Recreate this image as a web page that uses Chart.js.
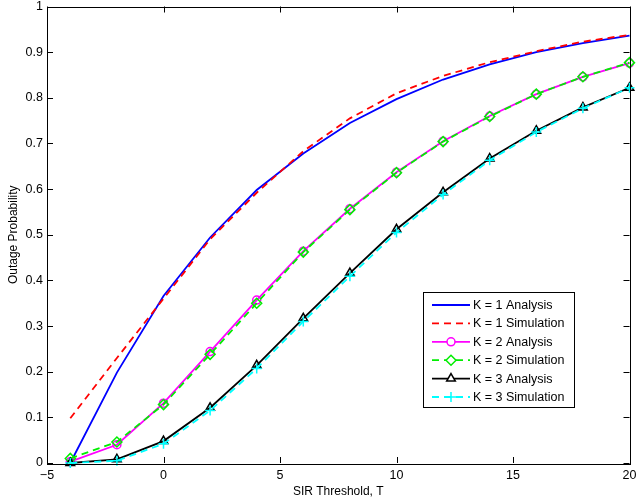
<!DOCTYPE html>
<html>
<head>
<meta charset="utf-8">
<script src="https://cdn.jsdelivr.net/npm/chart.js@4"></script>
<style>
  html, body { margin: 0; padding: 0; background: #fff; }
  #wrap { width: 636px; height: 502px; }
</style>
</head>
<body>
<div id="wrap"><canvas id="outageChart" width="636" height="502"></canvas></div>
<script>
// ==== Data ====
const sirThreshold = [-4, -2, 0, 2, 4, 6, 8, 10, 12, 14, 16, 18, 20];

const k1Analysis   = [0, 0.198, 0.366, 0.494, 0.598, 0.678, 0.745, 0.797, 0.840, 0.873, 0.900, 0.920, 0.936];
const k1Simulation = [0.098, 0.230, 0.360, 0.490, 0.592, 0.683, 0.755, 0.810, 0.848, 0.878, 0.902, 0.923, 0.938];
const k2Analysis   = [0.003, 0.040, 0.131, 0.244, 0.357, 0.464, 0.557, 0.637, 0.705, 0.760, 0.808, 0.846, 0.876];
const k2Simulation = [0.010, 0.046, 0.128, 0.238, 0.350, 0.462, 0.555, 0.636, 0.704, 0.759, 0.808, 0.846, 0.877];
const k3Analysis   = [0, 0.008, 0.048, 0.121, 0.214, 0.317, 0.416, 0.512, 0.593, 0.667, 0.728, 0.779, 0.822];
const k3Simulation = [0, 0.005, 0.042, 0.115, 0.207, 0.310, 0.409, 0.505, 0.588, 0.663, 0.725, 0.777, 0.822];

const xTicks = [-5, 0, 5, 10, 15, 20];
const yTicks = [0, 0.1, 0.2, 0.3, 0.4, 0.5, 0.6, 0.7, 0.8, 0.9, 1];

const FONT = "'Liberation Sans', Arial, Helvetica, sans-serif";

function toPoints(ys) {
  return sirThreshold.map((x, i) => ({ x: x, y: ys[i] }));
}

function series(label, ys, color, opts) {
  return Object.assign({
    label: label,
    data: toPoints(ys),
    showLine: true,
    borderColor: color,
    backgroundColor: "rgba(0,0,0,0)",
    borderWidth: 1.8,
    pointRadius: 0,
    pointBorderColor: color,
    pointBackgroundColor: "rgba(0,0,0,0)",
    pointBorderWidth: 1.5,
    tension: 0,
    clip: false
  }, opts);
}

const datasets = [
  series("K = 1 Analysis", k1Analysis, "#0000ff", { order: 6 }),
  series("K = 1 Simulation", k1Simulation, "#ff0000", { order: 5, borderDash: [7, 5] }),
  series("K = 2 Analysis", k2Analysis, "#ff00ff", { order: 4, pointStyle: "circle", pointRadius: 4 }),
  series("K = 2 Simulation", k2Simulation, "#00ee00", { order: 3, borderDash: [7, 5], pointStyle: "rectRot", pointRadius: 5 }),
  series("K = 3 Analysis", k3Analysis, "#000000", { order: 2, pointStyle: "triangle", pointRadius: 5 }),
  series("K = 3 Simulation", k3Simulation, "#00ffff", { order: 1, borderDash: [7, 5], pointStyle: "cross", pointRadius: 5 })
];

// ==== Frame, inward ticks, legend ====
const matlabFrame = {
  id: "matlabFrame",
  afterDraw(chart) {
    const { ctx, chartArea: a, scales } = chart;
    ctx.save();
    ctx.strokeStyle = "#000";
    ctx.lineWidth = 1;
    ctx.setLineDash([]);
    ctx.strokeRect(Math.round(a.left) + 0.5, Math.round(a.top) + 0.5,
                   Math.round(a.right - a.left), Math.round(a.bottom - a.top));
    const len = 6;
    ctx.beginPath();
    xTicks.forEach(v => {
      const px = Math.round(scales.x.getPixelForValue(v)) + 0.5;
      ctx.moveTo(px, a.bottom); ctx.lineTo(px, a.bottom - len);
      ctx.moveTo(px, a.top); ctx.lineTo(px, a.top + len);
    });
    yTicks.forEach(v => {
      const py = Math.round(scales.y.getPixelForValue(v)) + 0.5;
      ctx.moveTo(a.left, py); ctx.lineTo(a.left + len, py);
      ctx.moveTo(a.right, py); ctx.lineTo(a.right - len, py);
    });
    ctx.stroke();

    // legend box
    const box = { x: 423.5, y: 292.5, w: 151, h: 115 };
    ctx.fillStyle = "#fff";
    ctx.fillRect(box.x, box.y, box.w, box.h);
    ctx.strokeRect(box.x, box.y, box.w, box.h);
    ctx.font = "12.5px " + FONT;
    ctx.textBaseline = "middle";
    ctx.textAlign = "left";
    chart.data.datasets.forEach((ds, i) => {
      const y = 305 + i * 18.4;
      ctx.save();
      ctx.strokeStyle = ds.borderColor;
      ctx.lineWidth = ds.borderWidth;
      ctx.setLineDash(ds.borderDash || []);
      ctx.beginPath();
      ctx.moveTo(432, y); ctx.lineTo(470, y);
      ctx.stroke();
      ctx.setLineDash([]);
      if (ds.pointRadius > 0) {
        ctx.strokeStyle = ds.pointBorderColor;
        ctx.lineWidth = ds.pointBorderWidth;
        ctx.fillStyle = "#ffffff";
        Chart.helpers.drawPoint(ctx, {
          pointStyle: ds.pointStyle,
          radius: ds.pointRadius,
          borderWidth: ds.pointBorderWidth,
          rotation: 0
        }, 451, y);
      }
      ctx.restore();
      ctx.fillStyle = "#000";
      ctx.fillText(ds.label, 473, y + 0.5);
    });
    ctx.restore();
  }
};

// ==== Chart ====
const ctx = document.getElementById("outageChart").getContext("2d");
const chart = new Chart(ctx, {
  type: "scatter",
  data: { datasets: datasets },
  options: {
    responsive: false,
    animation: false,
    devicePixelRatio: 1,
    layout: { padding: { top: 4, right: 5, left: 0, bottom: 0 } },
    plugins: { legend: { display: false }, tooltip: { enabled: false } },
    scales: {
      x: {
        type: "linear",
        min: -5,
        max: 20,
        grid: { display: false, drawTicks: false },
        border: { display: false },
        afterBuildTicks: s => { s.ticks = xTicks.map(v => ({ value: v })); },
        ticks: {
          color: "#000",
          font: { family: FONT, size: 12.5 },
          padding: 5,
          maxRotation: 0,
          callback: v => (v < 0 ? "\u2212" + Math.abs(v) : String(v))
        },
        title: {
          display: true,
          text: "SIR Threshold, T",
          color: "#000",
          font: { family: FONT, size: 12 },
          padding: { top: 0, bottom: 3 }
        },
        afterFit: s => { s.height = 39; s.paddingLeft = 0; s.paddingRight = 0; }
      },
      y: {
        type: "linear",
        min: 0,
        max: 1,
        grid: { display: false, drawTicks: false },
        border: { display: false },
        afterBuildTicks: s => { s.ticks = yTicks.map(v => ({ value: v })); },
        ticks: {
          color: "#000",
          font: { family: FONT, size: 12.5 },
          padding: 4,
          callback: v => (v === 0 || v === 1 ? String(v) : v.toFixed(1))
        },
        title: {
          display: true,
          text: "Outage Probability",
          color: "#000",
          font: { family: FONT, size: 12 },
          padding: { top: 6, bottom: 0 }
        },
        afterFit: s => { s.width = 47; s.paddingTop = 0; s.paddingBottom = 0; }
      }
    }
  },
  plugins: [matlabFrame]
});
</script>
</body>
</html>
